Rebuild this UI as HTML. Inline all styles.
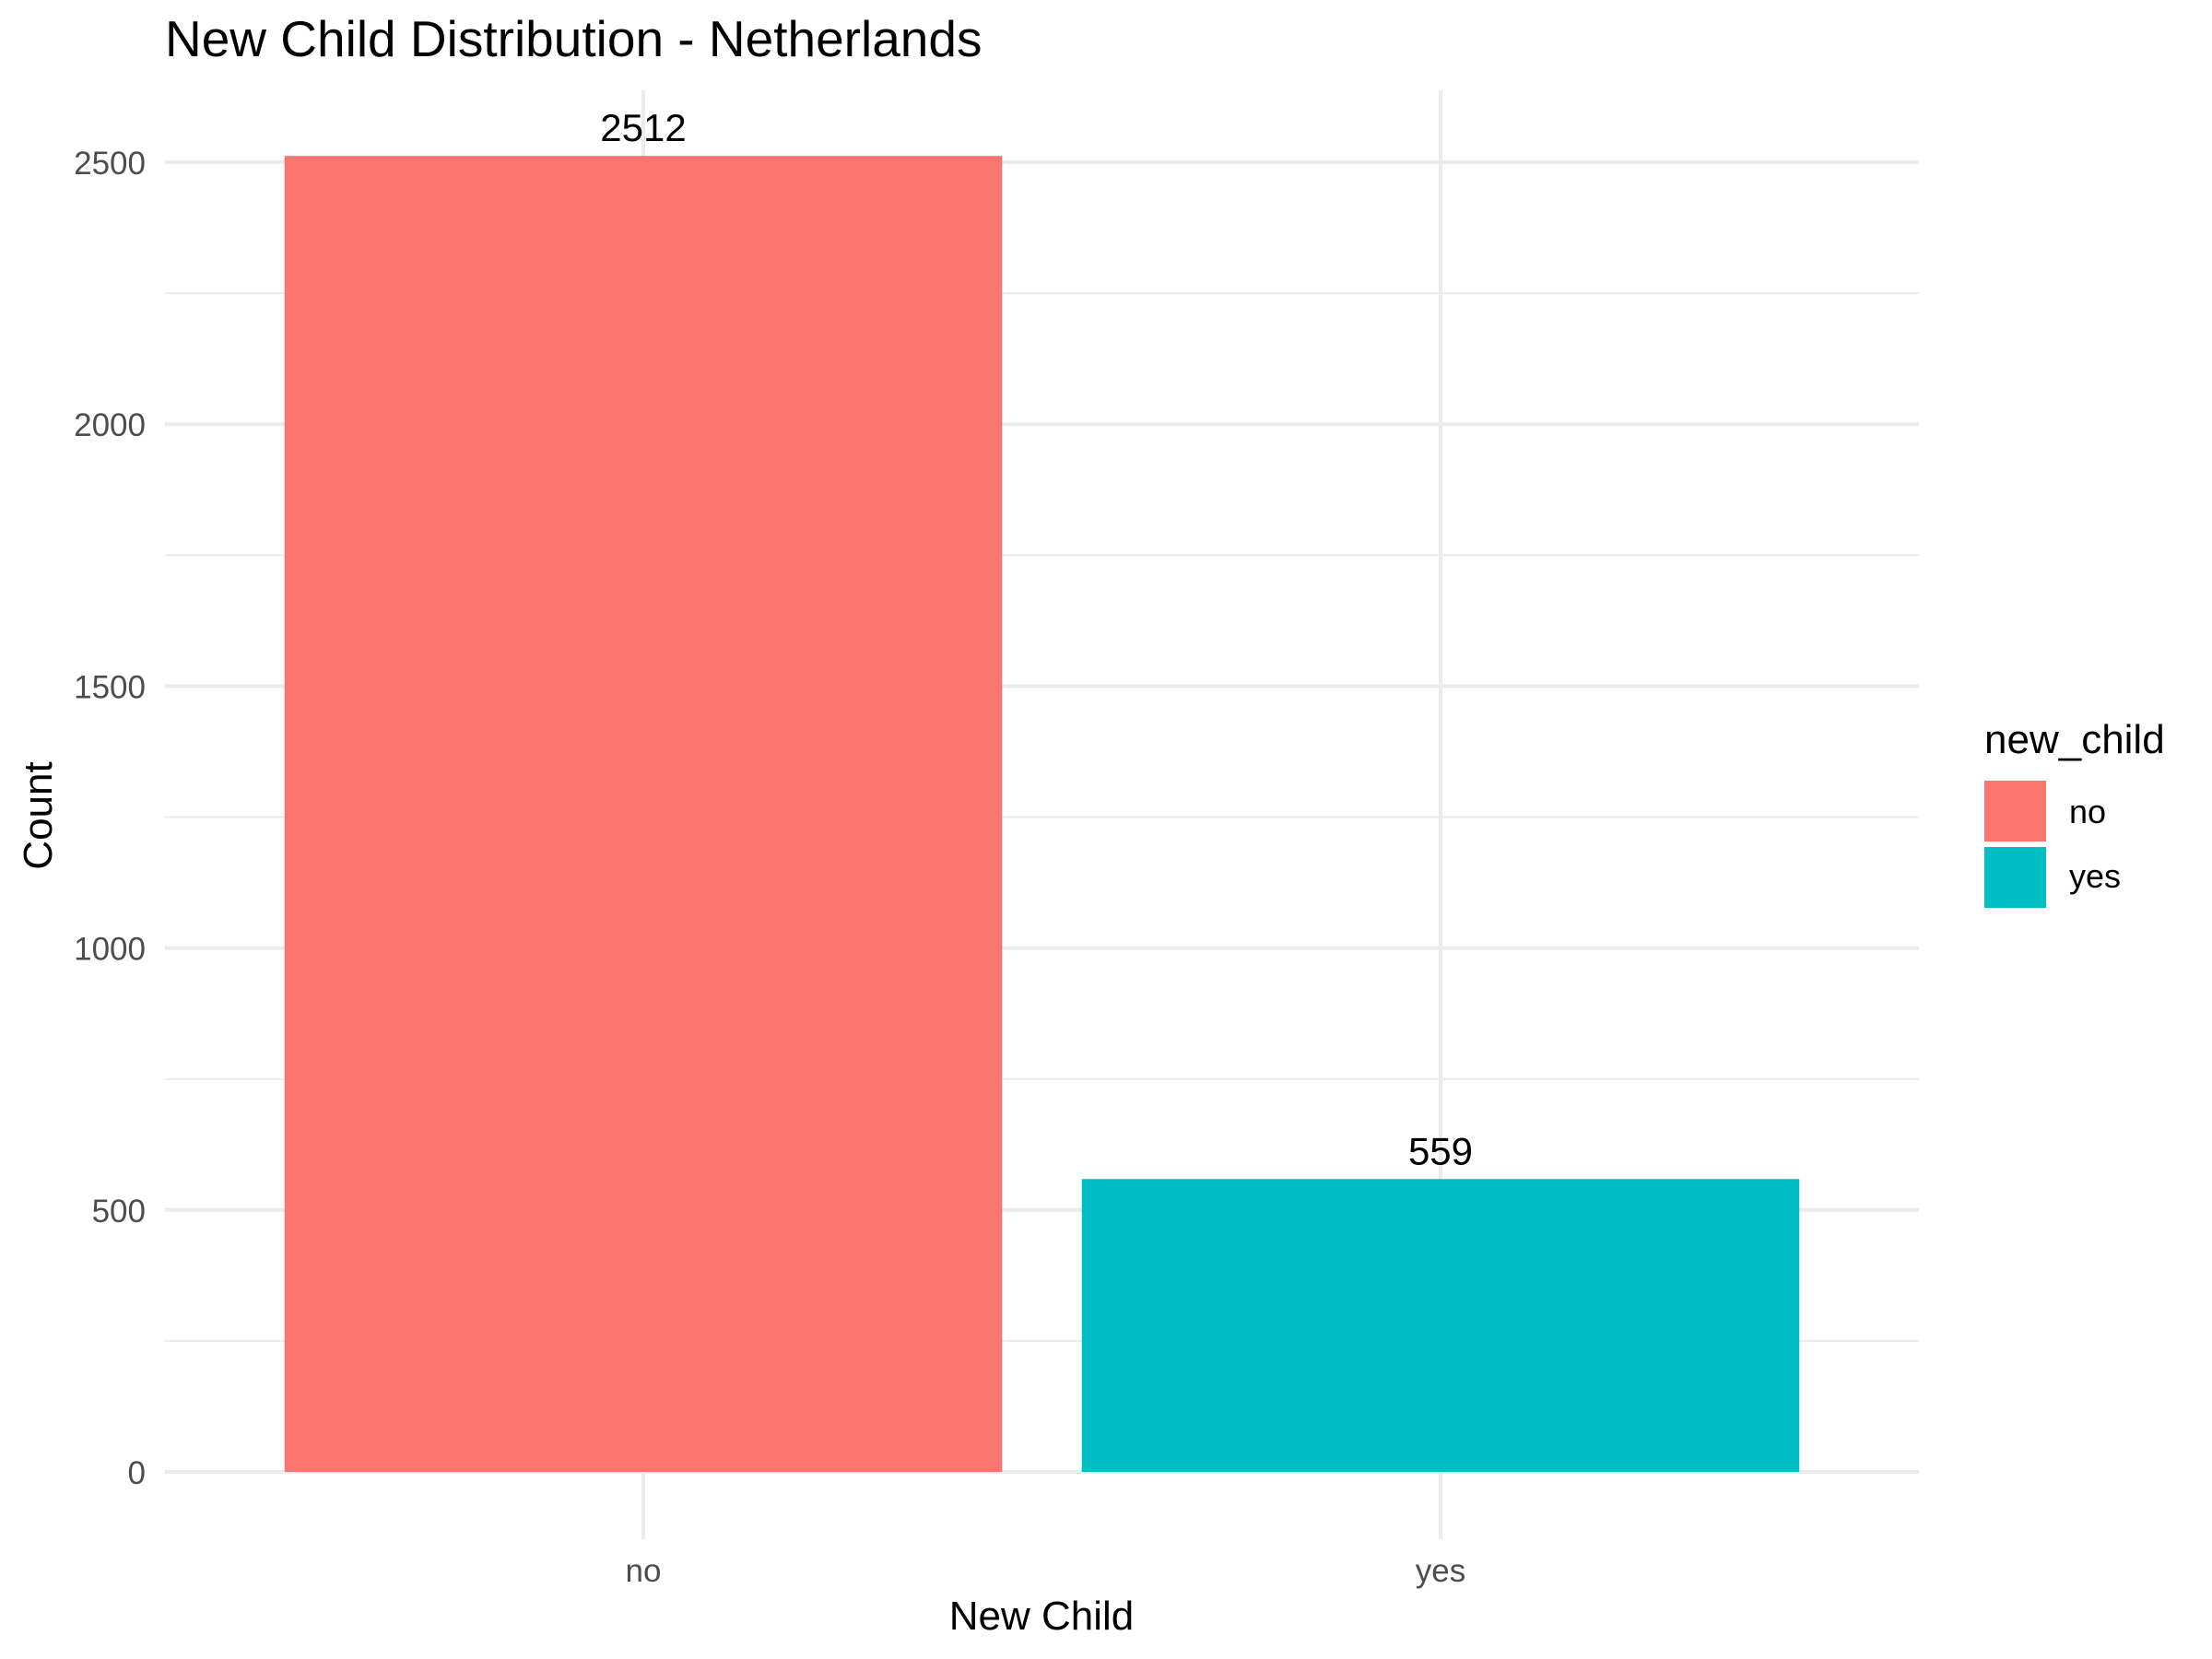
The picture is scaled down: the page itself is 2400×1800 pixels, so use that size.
<!DOCTYPE html>
<html><head><meta charset="utf-8"><style>
html,body{margin:0;padding:0;background:#fff;}
svg{display:block;font-family:"Liberation Sans",sans-serif;}
</style></head><body>
<svg id="chart" width="2400" height="1800" viewBox="0 0 2400 1800">
<text x="179" y="61" font-size="55" fill="#000">New Child Distribution - Netherlands</text>
<g id="grid"></g>
<g id="bars"></g>
<g id="labels"></g>
<text x="1130" y="1768" font-size="44" text-anchor="middle" fill="#000">New Child</text>
<text x="0" y="0" font-size="44" text-anchor="middle" fill="#000" transform="translate(56,885) rotate(-90)">Count</text>
<g>
<text x="2153" y="817" font-size="44" fill="#000">new_child</text>
<rect x="2153" y="847" width="67" height="66" fill="#F8766D"/>
<text x="2245" y="893" font-size="36" fill="#000">no</text>
<rect x="2153" y="919" width="67" height="66" fill="#00BFC4"/>
<text x="2245" y="963" font-size="36" fill="#000">yes</text>
</g>
</svg>
<script>
const categories = ["no", "yes"];
const counts = [2512, 559];
const colors = ["#F8766D", "#00BFC4"];
const yTicks = [0, 500, 1000, 1500, 2000, 2500];
const yMinor = [250, 750, 1250, 1750, 2250];

const NS = "http://www.w3.org/2000/svg";
const plotL = 179, plotR = 2082, y0 = 1597, y2500 = 176;
const yScale = v => y0 - (v / 2500) * (y0 - y2500);
const band = (plotR - plotL) / (categories.length + 0.2);
const xCenter = i => plotL + band * (0.6 + i);
const barW = band * 0.9;

function mk(tag, attrs, parent) {
  const e = document.createElementNS(NS, tag);
  for (const k in attrs) e.setAttribute(k, attrs[k]);
  parent.appendChild(e);
  return e;
}
const grid = document.getElementById("grid");
const bars = document.getElementById("bars");
const labels = document.getElementById("labels");

yMinor.forEach(v => {
  const l = mk("line", {x1: plotL, x2: plotR, y1: yScale(v), y2: yScale(v), stroke: "#ebebeb", "stroke-width": 2}, grid);
  
  
});
yTicks.forEach(v => {
  const l = mk("line", {x1: plotL, x2: plotR, y1: yScale(v), y2: yScale(v), stroke: "#ebebeb", "stroke-width": 4}, grid);
  
  
  const t = mk("text", {x: 158, y: yScale(v) + 13, "font-size": 35, "text-anchor": "end", fill: "#4d4d4d"}, labels);
  t.textContent = v;
  
  
});
categories.forEach((c, i) => {
  const l = mk("line", {x1: xCenter(i), x2: xCenter(i), y1: 98, y2: 1670, stroke: "#ebebeb", "stroke-width": 4}, grid);
  
  
  const r = mk("rect", {x: xCenter(i) - barW / 2, y: yScale(counts[i]), width: barW, height: y0 - yScale(counts[i]), fill: colors[i]}, bars);
  
  
  const v = mk("text", {x: xCenter(i), y: yScale(counts[i]) - 16, "font-size": 42, "text-anchor": "middle", fill: "#000"}, labels);
  v.textContent = counts[i];
  
  
  const t = mk("text", {x: xCenter(i), y: 1716, "font-size": 35, "text-anchor": "middle", fill: "#4d4d4d"}, labels);
  t.textContent = c;
  
  
});
</script>
</body></html>
